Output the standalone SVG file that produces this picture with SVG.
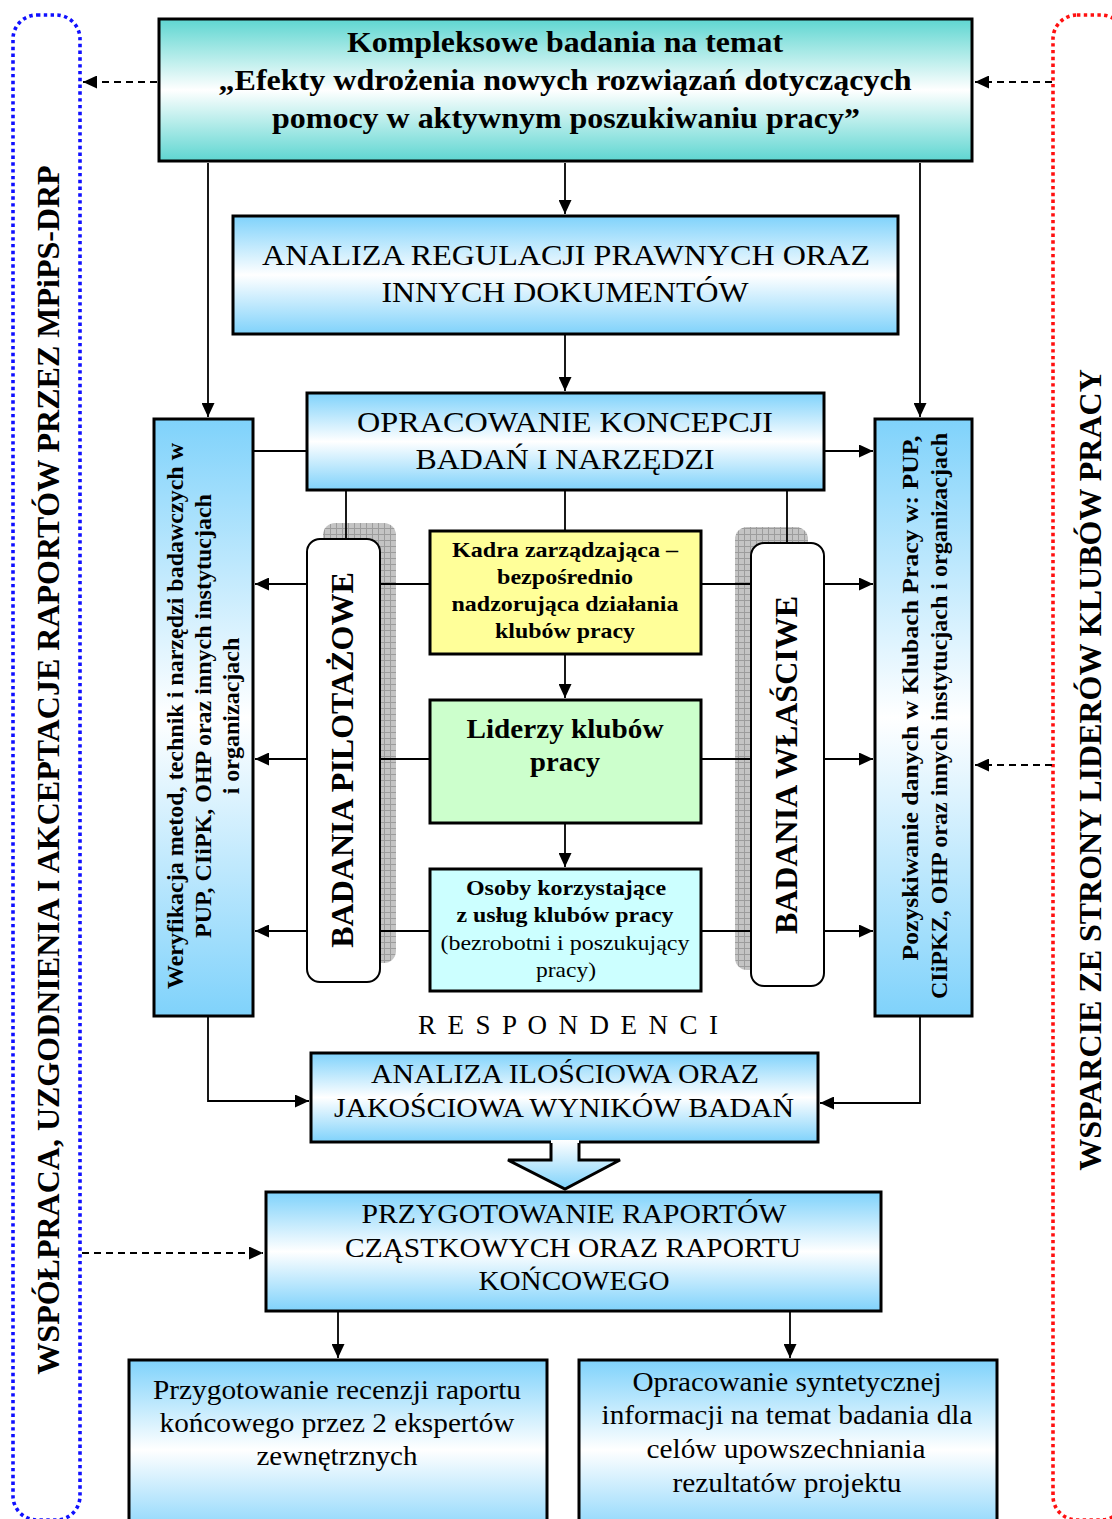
<svg xmlns="http://www.w3.org/2000/svg" width="1112" height="1519" viewBox="0 0 1112 1519">
<defs>
<linearGradient id="gBlue" x1="0" y1="0" x2="0" y2="1">
<stop offset="0" stop-color="#7fd2fb"/><stop offset="0.5" stop-color="#ffffff"/><stop offset="1" stop-color="#7fd2fb"/>
</linearGradient>
<linearGradient id="gTeal" x1="0" y1="0" x2="0" y2="1">
<stop offset="0" stop-color="#5ed6d1"/><stop offset="0.5" stop-color="#ffffff"/><stop offset="1" stop-color="#5ed6d1"/>
</linearGradient>
<linearGradient id="gArrow" x1="0" y1="0" x2="0" y2="1">
<stop offset="0" stop-color="#ffffff"/><stop offset="1" stop-color="#7fd2fb"/>
</linearGradient>
<pattern id="grid" width="6" height="6" patternUnits="userSpaceOnUse">
<rect width="6" height="6" fill="#c4c4c4"/>
<path d="M0,0.5 H6 M0.5,0 V6" stroke="#9c9c9c" stroke-width="1"/>
</pattern>
<marker id="ah" markerUnits="userSpaceOnUse" markerWidth="15" markerHeight="13" refX="14" refY="6.5" orient="auto">
<path d="M0,0 L14,6.5 L0,13 z" fill="#000"/>
</marker>
<style>
.box{stroke:#000;stroke-width:3}
.blue{fill:url(#gBlue)}
.con{fill:none;stroke:#000;stroke-width:1.8}
.arr{marker-end:url(#ah)}
.dash{stroke-dasharray:7 5}
.t{font-family:"Liberation Serif","Times New Roman",serif;fill:#000}
.b{font-weight:bold}
.m{text-anchor:middle}
.dot{fill:none;stroke-width:3.6;stroke-dasharray:3.4 3.4}
</style>
</defs>
<rect width="1112" height="1519" fill="#fff"/>

<g id="boundary-left">
<rect class="dot" x="13" y="15" width="67" height="1505" rx="24" stroke="#1010ff"/>
<text class="t b m" font-size="32" transform="translate(48,770) rotate(-90)" dy="11">WSPÓŁPRACA, UZGODNIENIA I AKCEPTACJE RAPORTÓW PRZEZ MPiPS-DRP</text>
</g>
<g id="boundary-right">
<rect class="dot" x="1053" y="15" width="72" height="1505" rx="24" stroke="#ff1010"/>
<text class="t b m" font-size="32" transform="translate(1090,770) rotate(-90)" dy="11">WSPARCIE ZE STRONY LIDERÓW KLUBÓW PRACY</text>
</g>

<g id="shadows">
<rect x="323" y="523" width="73" height="440" rx="12" fill="url(#grid)"/>
<rect x="735" y="527" width="73" height="443" rx="12" fill="url(#grid)"/>
</g>

<g id="connectors">
<path class="con arr" d="M565,163 V214"/>
<path class="con arr" d="M565,335 V391"/>
<path class="con arr" d="M208,163 V417"/>
<path class="con arr" d="M920,163 V417"/>
<path class="con" d="M306,451 H254"/>
<path class="con arr" d="M825,451 H873"/>
<path class="con" d="M346,491 V539"/>
<path class="con" d="M565,491 V530"/>
<path class="con" d="M787,491 V543"/>
<path class="con arr" d="M429,584 H255"/>
<path class="con arr" d="M429,759 H255"/>
<path class="con arr" d="M429,931 H255"/>
<path class="con arr" d="M702,584 H873"/>
<path class="con arr" d="M702,759 H873"/>
<path class="con arr" d="M702,931 H873"/>
<path class="con arr" d="M565,655 V698"/>
<path class="con arr" d="M565,824 V867"/>
<path class="con arr" d="M208,1017 V1101 H309"/>
<path class="con arr" d="M920,1017 V1103 H820"/>
<path class="con arr" d="M338,1312 V1358"/>
<path class="con arr" d="M790,1312 V1358"/>
<path class="con arr dash" d="M157,82 H83"/>
<path class="con arr dash" d="M1052,82 H975"/>
<path class="con arr dash" d="M1052,765 H975"/>
<path class="con arr dash" d="M82,1253 H263"/>
</g>

<g id="node-top">
<rect class="box" x="159" y="19" width="813" height="142" fill="url(#gTeal)"/>
<text class="t b m" font-size="30" x="565" y="52" textLength="436" lengthAdjust="spacingAndGlyphs">Kompleksowe badania na temat</text>
<text class="t b m" font-size="30" x="565" y="90" textLength="693" lengthAdjust="spacingAndGlyphs">„Efekty wdrożenia nowych rozwiązań dotyczących</text>
<text class="t b m" font-size="30" x="566" y="128" textLength="588" lengthAdjust="spacingAndGlyphs">pomocy w aktywnym poszukiwaniu pracy”</text>
</g>

<g id="node-analiza-regulacji">
<rect class="box blue" x="233" y="216" width="665" height="118"/>
<text class="t m" font-size="30" x="566" y="265" textLength="608" lengthAdjust="spacingAndGlyphs">ANALIZA REGULACJI PRAWNYCH ORAZ</text>
<text class="t m" font-size="30" x="565" y="302" textLength="367" lengthAdjust="spacingAndGlyphs">INNYCH DOKUMENTÓW</text>
</g>

<g id="node-opracowanie">
<rect class="box blue" x="307" y="393" width="517" height="97"/>
<text class="t m" font-size="30" x="565" y="432" textLength="416" lengthAdjust="spacingAndGlyphs">OPRACOWANIE KONCEPCJI</text>
<text class="t m" font-size="30" x="565" y="469" textLength="299" lengthAdjust="spacingAndGlyphs">BADAŃ I NARZĘDZI</text>
</g>

<g id="node-weryfikacja">
<rect class="box blue" x="154" y="419" width="99" height="597"/>
<text class="t b m" font-size="24" transform="translate(183,716) rotate(-90)">Weryfikacja metod, technik i narzędzi badawczych w</text>
<text class="t b m" font-size="24" transform="translate(211,716) rotate(-90)">PUP, CIiPK, OHP oraz innych instytucjach</text>
<text class="t b m" font-size="24" transform="translate(239,716) rotate(-90)">i organizacjach</text>
</g>

<g id="node-pozyskiwanie">
<rect class="box blue" x="875" y="419" width="97" height="597"/>
<text class="t b m" font-size="24" transform="translate(918,698) rotate(-90)" textLength="525" lengthAdjust="spacingAndGlyphs">Pozyskiwanie danych w Klubach Pracy w: PUP,</text>
<text class="t b m" font-size="24" transform="translate(947,716) rotate(-90)">CIiPKZ, OHP oraz innych instytucjach i organizacjach</text>
</g>

<g id="node-pilotazowe">
<rect x="307" y="539" width="73" height="443" rx="13" fill="#fff" stroke="#000" stroke-width="2"/>
<text class="t b m" font-size="32" transform="translate(342,760) rotate(-90)" dy="11">BADANIA PILOTAŻOWE</text>
</g>

<g id="node-wlasciwe">
<rect x="751" y="543" width="73" height="443" rx="13" fill="#fff" stroke="#000" stroke-width="2"/>
<text class="t b m" font-size="32" transform="translate(786,765) rotate(-90)" dy="11">BADANIA WŁAŚCIWE</text>
</g>

<g id="node-kadra">
<rect class="box" x="430" y="531" width="271" height="123" fill="#ffff99"/>
<text class="t b m" font-size="21" x="565" y="557" textLength="226" lengthAdjust="spacingAndGlyphs">Kadra zarządzająca –</text>
<text class="t b m" font-size="21" x="565" y="584" textLength="136" lengthAdjust="spacingAndGlyphs">bezpośrednio</text>
<text class="t b m" font-size="21" x="565" y="611" textLength="227" lengthAdjust="spacingAndGlyphs">nadzorująca działania</text>
<text class="t b m" font-size="21" x="565" y="638" textLength="140" lengthAdjust="spacingAndGlyphs">klubów pracy</text>
</g>

<g id="node-liderzy">
<rect class="box" x="430" y="700" width="271" height="123" fill="#ccffcc"/>
<text class="t b m" font-size="27" x="565" y="738" textLength="197" lengthAdjust="spacingAndGlyphs">Liderzy klubów</text>
<text class="t b m" font-size="27" x="565" y="771" textLength="70" lengthAdjust="spacingAndGlyphs">pracy</text>
</g>

<g id="node-osoby">
<rect class="box" x="430" y="869" width="271" height="122" fill="#ccffff"/>
<text class="t b m" font-size="21" x="566" y="895" textLength="200" lengthAdjust="spacingAndGlyphs">Osoby korzystające</text>
<text class="t b m" font-size="21" x="565" y="922" textLength="217" lengthAdjust="spacingAndGlyphs">z usług klubów pracy</text>
<text class="t m" font-size="21" x="565" y="950" textLength="249" lengthAdjust="spacingAndGlyphs">(bezrobotni i poszukujący</text>
<text class="t m" font-size="21" x="566" y="977" textLength="60" lengthAdjust="spacingAndGlyphs">pracy)</text>
</g>

<g id="label-respondenci">
<text class="t m" font-size="27" x="568" y="1034" textLength="300" lengthAdjust="spacing">R E S P O N D E N C I</text>
</g>

<g id="node-analiza-wynikow">
<rect class="box blue" x="311" y="1053" width="507" height="89"/>
<text class="t m" font-size="27" x="565" y="1083" textLength="388" lengthAdjust="spacingAndGlyphs">ANALIZA ILOŚCIOWA ORAZ</text>
<text class="t m" font-size="27" x="564" y="1117" textLength="460" lengthAdjust="spacingAndGlyphs">JAKOŚCIOWA WYNIKÓW BADAŃ</text>
</g>

<g id="block-arrow">
<path d="M551,1140 V1160 H508 L565,1189 L620,1160 H579 V1140 z" fill="url(#gArrow)"/>
<path d="M551,1143 V1160 H508 L565,1189 L620,1160 H579 V1143" fill="none" stroke="#000" stroke-width="3" stroke-linejoin="miter"/>
</g>

<g id="node-przygotowanie">
<rect class="box blue" x="266" y="1192" width="615" height="119"/>
<text class="t m" font-size="28" x="574" y="1223" textLength="425" lengthAdjust="spacingAndGlyphs">PRZYGOTOWANIE RAPORTÓW</text>
<text class="t m" font-size="28" x="573" y="1257" textLength="456" lengthAdjust="spacingAndGlyphs">CZĄSTKOWYCH ORAZ RAPORTU</text>
<text class="t m" font-size="28" x="574" y="1290" textLength="191" lengthAdjust="spacingAndGlyphs">KOŃCOWEGO</text>
</g>

<g id="node-recenzja">
<rect class="box blue" x="129" y="1360" width="418" height="180"/>
<text class="t m" font-size="27" x="337" y="1399" textLength="368" lengthAdjust="spacingAndGlyphs">Przygotowanie recenzji raportu</text>
<text class="t m" font-size="27" x="337" y="1432" textLength="355" lengthAdjust="spacingAndGlyphs">końcowego przez 2 ekspertów</text>
<text class="t m" font-size="27" x="337" y="1465" textLength="161" lengthAdjust="spacingAndGlyphs">zewnętrznych</text>
</g>

<g id="node-synteza">
<rect class="box blue" x="579" y="1360" width="418" height="180"/>
<text class="t m" font-size="27" x="787" y="1391" textLength="309" lengthAdjust="spacingAndGlyphs">Opracowanie syntetycznej</text>
<text class="t m" font-size="27" x="787" y="1424" textLength="371" lengthAdjust="spacingAndGlyphs">informacji na temat badania dla</text>
<text class="t m" font-size="27" x="786" y="1458" textLength="279" lengthAdjust="spacingAndGlyphs">celów upowszechniania</text>
<text class="t m" font-size="27" x="787" y="1492" textLength="229" lengthAdjust="spacingAndGlyphs">rezultatów projektu</text>
</g>
</svg>
